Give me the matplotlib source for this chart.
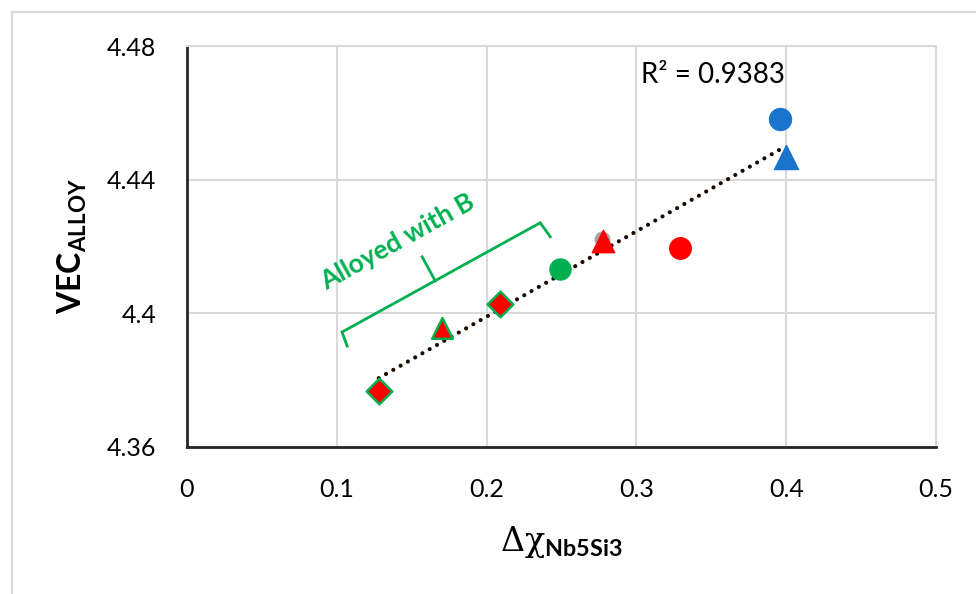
import numpy as np
import matplotlib.pyplot as plt
from matplotlib.lines import Line2D

plt.rcParams['font.family'] = ['Lato', 'DejaVu Sans']
plt.rcParams['mathtext.fontset'] = 'custom'
plt.rcParams['mathtext.rm'] = 'Lato'
plt.rcParams['mathtext.bf'] = 'Lato:bold'
plt.rcParams['mathtext.it'] = 'Lato:italic'

# data
blue_circle_x = [0.396]
blue_circle_y = [4.4582]
blue_tri_x = [0.400]
blue_tri_y = [4.4468]
red_circle_x = [0.329]
red_circle_y = [4.4196]
red_tri_x = [0.278]
red_tri_y = [4.4217]
gray_circle_x = [0.277]
gray_circle_y = [4.4222]
green_circle_x = [0.249]
green_circle_y = [4.4133]
rg_tri_x = [0.170]
rg_tri_y = [4.3956]
rg_dia_x = [0.128, 0.209]
rg_dia_y = [4.3768, 4.4028]

all_x = np.array(blue_circle_x + blue_tri_x + red_circle_x + red_tri_x
                 + green_circle_x + rg_tri_x + rg_dia_x)
all_y = np.array(blue_circle_y + blue_tri_y + red_circle_y + red_tri_y
                 + green_circle_y + rg_tri_y + rg_dia_y)
r2_label = 'R² = 0.9383'

fig = plt.figure(figsize=(9.76, 5.94), dpi=100)
ax = fig.add_axes([187/976, 1-447/594, (936-187)/976, (447-46)/594])

# trendline
k, b = np.polyfit(all_x, all_y, 1)
tx = np.array([all_x.min(), all_x.max()])
ax.plot(tx, k*tx + b, color='#1a0a00', linestyle=(0, (0.01, 2.0)), lw=3.0,
        dash_capstyle='round', zorder=2)

ax.scatter(gray_circle_x, gray_circle_y, s=110, marker='o', color='#A5A5A5', zorder=3)
ax.scatter(rg_tri_x, [y + 0.0008 for y in rg_tri_y], s=150, marker='^', color='#FFC000', zorder=3)
ax.scatter(blue_circle_x, blue_circle_y, s=250, marker='o', color='#1874CD', zorder=4)
ax.scatter(blue_tri_x, blue_tri_y, s=300, marker='^', color='#1874CD', zorder=4)
ax.scatter(red_circle_x, red_circle_y, s=240, marker='o', color='#FF0000', zorder=4)
ax.scatter(red_tri_x, red_tri_y, s=260, marker='^', color='#FF0000', zorder=4)
ax.scatter(green_circle_x, green_circle_y, s=230, marker='o', color='#00B050', zorder=4)
ax.scatter(rg_tri_x, rg_tri_y, s=220, marker='^', color='#FF0000',
           edgecolors='#00B050', linewidths=1.8, zorder=4)
ax.scatter(rg_dia_x, rg_dia_y, s=170, marker='D', color='#FF0000',
           edgecolors='#00B050', linewidths=1.8, zorder=4)

ax.set_xlim(0, 0.5)
ax.set_ylim(4.36, 4.48)
ax.set_xticks([0, 0.1, 0.2, 0.3, 0.4, 0.5])
ax.set_xticklabels(['0', '0.1', '0.2', '0.3', '0.4', '0.5'])
ax.set_yticks([4.36, 4.4, 4.44, 4.48])
ax.set_yticklabels(['4.36', '4.4', '4.44', '4.48'])
ax.tick_params(axis='x', labelsize=18, length=0, pad=22)
ax.tick_params(axis='y', labelsize=18, length=0, pad=22)
ax.grid(True, color='#D9D9D9', lw=1.5)
ax.set_axisbelow(True)
for s in ['top', 'right']:
    ax.spines[s].set_color('#D9D9D9')
    ax.spines[s].set_linewidth(1.5)
for s in ['left', 'bottom']:
    ax.spines[s].set_color('#262626')
    ax.spines[s].set_linewidth(2)

ax.set_xlabel(r'Δχ$_{\mathbf{Nb5Si3}}$', fontsize=24, labelpad=17,
              family=['DejaVu Serif', 'Lato'])
ax.set_ylabel(r'$\mathbf{VEC_{ALLOY}}$', fontsize=23, labelpad=13)

ax.text(0.303, 4.4712, r2_label, fontsize=20, ha='left', va='center')

# "Alloyed with B" bracket
g = '#00B050'
bx = [0.1069, 0.1035, 0.2358, 0.2425]
by = [4.3902, 4.3944, 4.4271, 4.4229]
ax.plot(bx, by, color=g, lw=2, solid_joinstyle='miter')
ax.plot([0.1657, 0.1570], [4.4097, 4.4169], color=g, lw=2)
ax.text(0.1403, 4.4213, 'Alloyed with B', color=g, fontsize=19, fontweight='bold',
        rotation=29, ha='center', va='center')

# outer frame
fig.add_artist(Line2D([12/976, 12/976], [0, 1-12/594], color='#D9D9D9', lw=1.5))
fig.add_artist(Line2D([12/976, 1], [1-12/594, 1-12/594], color='#D9D9D9', lw=1.5))

fig.savefig('out.png', dpi=100)
